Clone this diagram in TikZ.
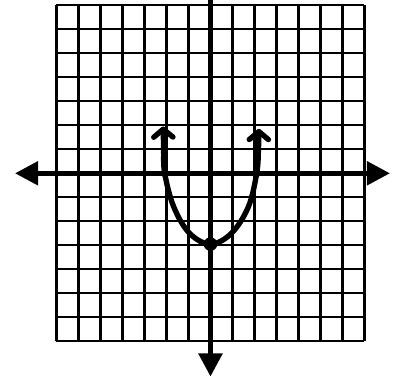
\documentclass[tikz,border=0pt]{standalone}
\usepackage{tikz}
\usetikzlibrary{arrows.meta}
\newcommand{\axtip}{Triangle[length=0.58cm,width=0.58cm]}
\newcommand{\crvtip}{Straight Barb[length=0.2cm,width=0.48cm,round]}

\begin{document}
\begin{tikzpicture}[x=0.55cm,y=0.6cm]
\useasboundingbox (-9.568,-8.571) rectangle (8.841,7.221);
\draw[line width=1.5pt,xstep=0.55cm,ystep=0.6cm] (-7,-7) grid (7,7);
\draw[{\axtip}-{\axtip},line width=3.6pt] (-8.886,0)--(8.159,0);
\draw[-{\axtip},line width=3.6pt] (0,7.4)--(0,-8.47);
\draw[{\crvtip}-{\crvtip},line width=3.8pt,line cap=round,line join=round] plot[smooth,tension=0.6] coordinates {(-2.15,1.95) (-2.13,1.0) (-2.08,0) (-1.67,-1.4) (-0.95,-2.5) (0,-2.95) (0.95,-2.5) (1.72,-1.4) (2.1,0) (2.18,1.0) (2.2,1.85)};
\fill (0,-2.95) circle (0.17cm); \fill (-2.08,0) circle (0.1cm); \fill (2.1,0) circle (0.1cm);
\end{tikzpicture}
\end{document}
